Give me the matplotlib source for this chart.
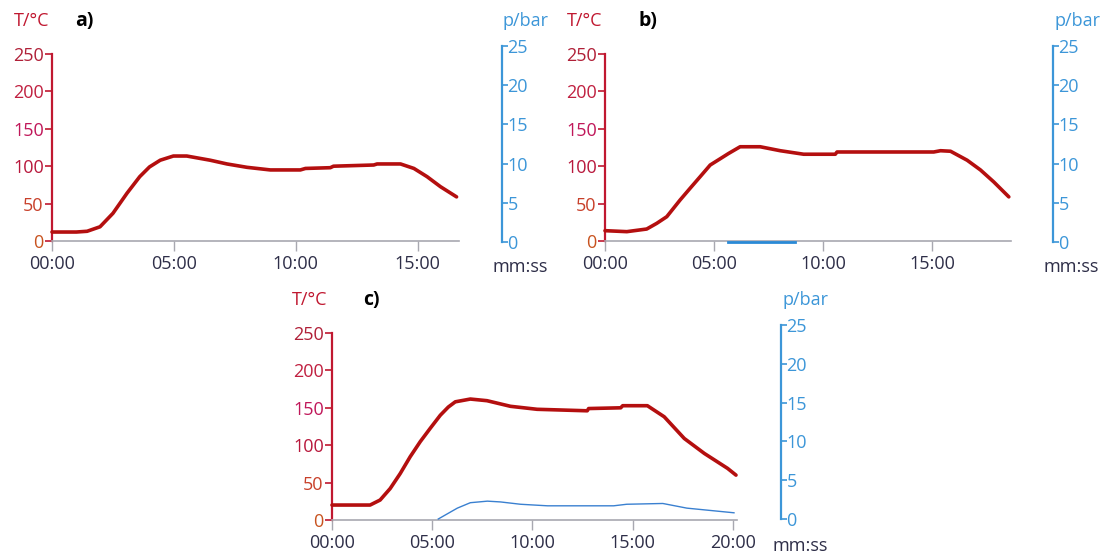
import matplotlib
matplotlib.use('Agg')
import matplotlib.pyplot as plt

W, H = 1101, 553
plt.rcParams['font.family'] = ['Open Sans', 'DejaVu Sans']

# ---------------- data ----------------
# panel a: temperature (°C) vs time (min)
t_a = [0, 0.5, 1.0, 1.44, 1.97, 2.5, 3.08, 3.6, 4.0, 4.44, 4.98, 5.53, 6.49, 7.18, 8.0,
       8.96, 10.19, 10.4, 11.42, 11.55, 13.2, 13.34, 14.3, 14.85, 15.39, 15.94, 16.6]
T_a = [12, 12, 12, 13, 19, 37, 64, 86, 99, 108, 113.6, 113.6, 108, 103, 98.5,
       95, 95, 97, 98, 100, 101.6, 103, 103, 97, 86, 72.6, 59]

# panel b
t_b = [0, 1.0, 1.91, 2.37, 2.83, 3.44, 3.9, 4.36, 4.82, 5.28, 5.66, 6.19, 7.11, 8.03,
       9.1, 10.55, 10.63, 15.06, 15.37, 15.83, 16.59, 17.2, 17.81, 18.5]
T_b = [13.8, 12.5, 16, 23.6, 32.5, 54.8, 70.5, 86, 101.6, 110, 117, 126, 126, 120.7,
       116, 116, 119, 119, 120.7, 120, 108, 95, 79, 59]
tp_b = [5.64, 8.7]
p_b = [0.0, 0.0]

# panel c
t_c = [0, 1.0, 1.9, 2.4, 2.9, 3.4, 3.9, 4.4, 4.9, 5.4, 5.8, 6.15, 6.9, 7.73, 8.9,
       10.23, 12.73, 12.8, 14.4, 14.5, 15.73, 16.57, 17.57, 18.57, 19.73, 20.15]
T_c = [20, 20, 20, 26.7, 42, 62, 84.6, 104.7, 122.6, 140, 151, 158, 161.7, 159.5, 152,
       148, 146, 149, 150, 152.8, 152.8, 138, 109, 89, 69, 60]
tp_c = [5.3, 6.25, 6.9, 7.75, 8.4, 9.4, 10.75, 12.0, 14.05, 14.7, 16.5, 17.7, 20.05]
p_c = [0.0, 1.4, 2.1, 2.3, 2.2, 1.9, 1.7, 1.7, 1.7, 1.9, 2.0, 1.4, 0.8]

T_ticks = [0, 50, 100, 150, 200, 250]
T_tick_colors = ['#c8521e', '#c8402a', '#b8183c', '#c0185a', '#c02040', '#b02038']
p_ticks = [0, 5, 10, 15, 20, 25]
x_ticks_ab = [0, 5, 10, 15]
x_labels_ab = ['00:00', '05:00', '10:00', '15:00']
x_ticks_c = [0, 5, 10, 15, 20]
x_labels_c = ['00:00', '05:00', '10:00', '15:00', '20:00']

RED = '#b40f0f'
AXRED = '#c01830'
BLUE = '#3c96d8'
GRAY = '#a8a8b0'
XLAB = '#2e2e48'
FS = 13

fig = plt.figure(figsize=(W / 100, H / 100), dpi=100)


def px_axes(x0, x1, ytop, ybot):
    return fig.add_axes([x0 / W, 1 - ybot / H, (x1 - x0) / W, (ybot - ytop) / H])


def panel(x0, x1, ytop, ybot, ptop, pbot, xright, xmax, xt, xl,
          t, T, tp, p, p_lw, letter, letter_x, tlab_x, lab_y, mm_x, mm_y, pbar_x):
    ax = px_axes(x0, x1, ytop, ybot)
    ax.set_xlim(0, xmax)
    ax.set_ylim(0, 250)
    ax.patch.set_visible(False)
    for s in ['top', 'right']:
        ax.spines[s].set_visible(False)
    ax.spines['left'].set_color(AXRED)
    ax.spines['left'].set_linewidth(1.6)
    ax.spines['bottom'].set_color(GRAY)
    ax.spines['bottom'].set_linewidth(1.2)
    ax.set_yticks(T_ticks)
    ax.set_yticklabels([str(v) for v in T_ticks])
    for lbl, c in zip(ax.get_yticklabels(), T_tick_colors):
        lbl.set_color(c)
    ax.tick_params(axis='y', direction='out', length=5, width=1.2, color=AXRED,
                   labelsize=FS, pad=1)
    ax.set_xticks(xt)
    ax.set_xticklabels(xl)
    ax.tick_params(axis='x', direction='out', length=7, width=1.0, color=GRAY,
                   labelsize=FS, labelcolor=XLAB, pad=3)
    ax.plot(t, T, color=RED, lw=2.6, clip_on=False, solid_capstyle='round',
            solid_joinstyle='round', zorder=3)

    # pressure axis
    axp = px_axes(x0, x1, ptop, pbot)
    axp.set_xlim(0, xmax)
    axp.set_ylim(0, 25)
    axp.patch.set_visible(False)
    for s in ['top', 'left', 'bottom']:
        axp.spines[s].set_visible(False)
    axp.spines['right'].set_position(('outward', (xright - x1) * 0.72))
    axp.spines['right'].set_color(BLUE)
    axp.spines['right'].set_linewidth(1.6)
    axp.xaxis.set_visible(False)
    axp.yaxis.tick_right()
    axp.set_yticks(p_ticks)
    axp.set_yticklabels([str(v) for v in p_ticks])
    axp.tick_params(axis='y', direction='out', length=4, width=1.2, color=BLUE,
                    labelcolor=BLUE, labelsize=FS, pad=0)
    if tp:
        axp.plot(tp, p, color='#3a80d0' if p_lw < 1.5 else '#2a8ad6', lw=p_lw,
                 clip_on=False, zorder=3)

    fig.text(tlab_x / W, 1 - lab_y / H, 'T/°C', color=AXRED, fontsize=FS,
             ha='center', va='center')
    fig.text(letter_x / W, 1 - lab_y / H, letter, color='black', fontsize=14,
             fontweight='bold', ha='center', va='center')
    fig.text(pbar_x / W, 1 - lab_y / H, 'p/bar', color=BLUE, fontsize=FS,
             ha='center', va='center')
    fig.text(mm_x / W, 1 - mm_y / H, 'mm:ss', color=XLAB, fontsize=FS,
             ha='center', va='center')


panel(52, 459, 54, 241, 46, 242, 502, 16.7, x_ticks_ab, x_labels_ab,
      t_a, T_a, None, None, 1.0, 'a)', 84, 32, 21, 520, 267, 525)
panel(605, 1011, 54, 241, 46, 242, 1053, 18.6, x_ticks_ab, x_labels_ab,
      t_b, T_b, tp_b, p_b, 2.0, 'b)', 648, 585, 21, 1071, 267, 1078)
panel(332, 737, 333, 520, 325, 519, 781, 20.2, x_ticks_c, x_labels_c,
      t_c, T_c, tp_c, p_c, 1.0, 'c)', 371, 310, 300, 800, 546, 805)

fig.savefig('out.png', dpi=100)
